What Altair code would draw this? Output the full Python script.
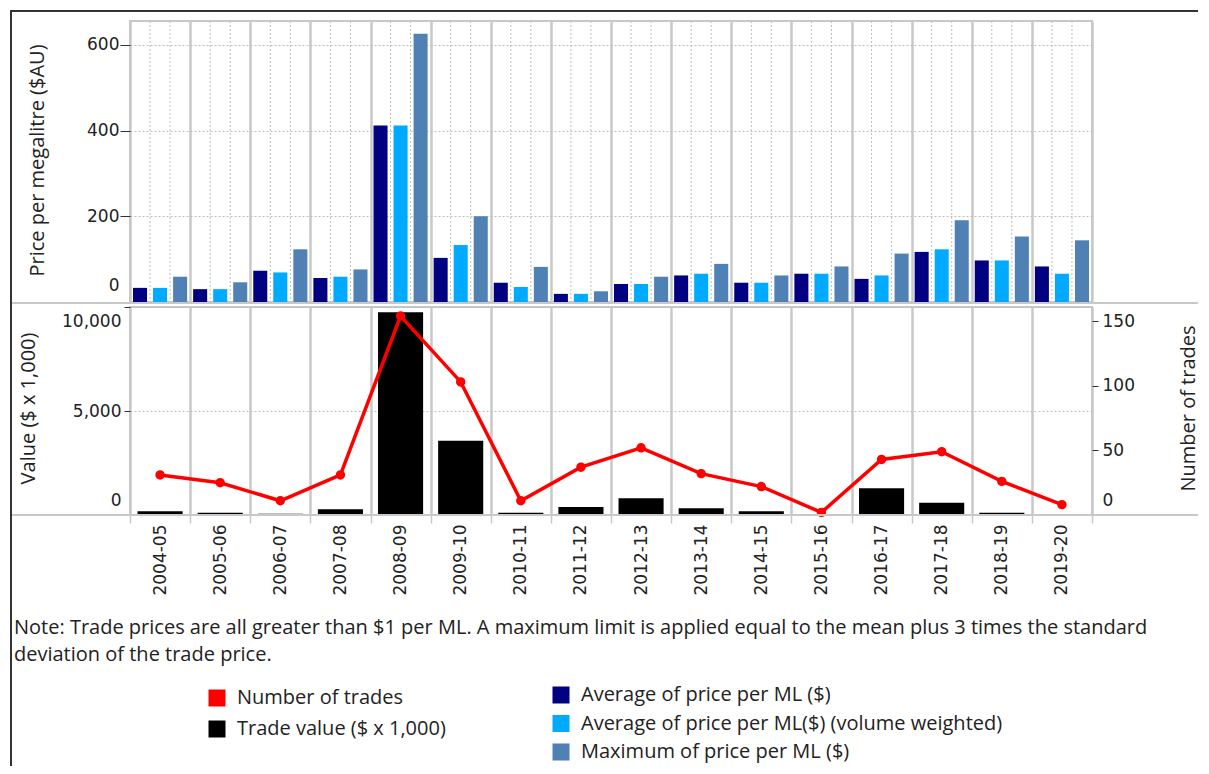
import altair as alt
import pandas as pd

# ---------------- data ----------------
years = ["2004-05", "2005-06", "2006-07", "2007-08", "2008-09", "2009-10",
         "2010-11", "2011-12", "2012-13", "2013-14", "2014-15", "2015-16",
         "2016-17", "2017-18", "2018-19", "2019-20"]

avg_price = [33, 30, 73, 56, 412, 103, 45, 19, 42, 62, 45, 66, 54, 117, 97, 83]
avg_price_vw = [33, 30, 69, 59, 412, 133, 35, 19, 42, 66, 45, 66, 62, 123, 97, 66]
max_price = [59, 46, 123, 76, 626, 200, 82, 25, 59, 89, 62, 83, 113, 191, 153, 144]

trade_value = [180, 110, 60, 275, 9750, 3570, 110, 385, 800, 320, 180, 5, 1285, 590, 110, 10]
num_trades = [31, 25, 11, 31, 154, 103, 11, 37, 52, 32, 22, 2, 43, 49, 26, 8]

series_names = ["Average of price per ML ($)",
                "Average of price per ML($) (volume weighted)",
                "Maximum of price per ML ($)"]
series_colors = ["#000080", "#00aaff", "#4f81b5"]

trade_value_label = "Trade value ($ x 1,000)"
num_trades_label = "Number of trades"

note_text = ("Note: Trade prices are all greater than $1 per ML. A maximum limit is applied "
             "equal to the mean plus 3 times the standard\ndeviation of the trade price.")

# ---------------- tables ----------------
price_df = pd.DataFrame({
    "year": years * 3,
    "series": [s for s in series_names for _ in years],
    "price": avg_price + avg_price_vw + max_price,
})
value_df = pd.DataFrame({"year": years, "value": trade_value, "measure": trade_value_label})
trades_df = pd.DataFrame({"year": years, "trades": num_trades, "measure": num_trades_label})
year_df = pd.DataFrame({"year": years})
one_df = pd.DataFrame({"k": [0]})
note_df = pd.DataFrame({"note": [note_text]})

# ---------------- style ----------------
W, H_TOP, H_BOT = 962, 281, 208
LABEL_FONT = "DejaVu Sans"
TEXT_FONT = "Open Sans"
TEXT_SIZE = 20
GRID = "#c8c8c8"
DASH = "#bdbdbd"
TXT = "#222222"


def x_scale():
    return alt.Scale(domain=years, paddingInner=0, paddingOuter=0)


legend_common = dict(title=None, orient="none", symbolType="square", symbolSize=289,
                     symbolStrokeWidth=0, labelFont=TEXT_FONT, labelFontSize=TEXT_SIZE,
                     labelColor=TXT, labelOffset=10, padding=0, direction="vertical",
                     labelLimit=700)

# ---------------- top panel ----------------
top_axis = alt.Axis(labels=False, ticks=False, domain=False, grid=True,
                    tickBand="extent", gridColor=GRID, gridWidth=2.5)

inner_a = alt.Chart(year_df).mark_rule(color=DASH, strokeDash=[2, 2], strokeWidth=1).encode(
    x=alt.X("year:N", sort=years, scale=x_scale(), bandPosition=1 / 3, title=None, axis=top_axis))
inner_b = alt.Chart(year_df).mark_rule(color=DASH, strokeDash=[2, 2], strokeWidth=1).encode(
    x=alt.X("year:N", sort=years, scale=x_scale(), bandPosition=2 / 3, title=None, axis=top_axis))

bars_top = alt.Chart(price_df).mark_bar().encode(
    x=alt.X("year:N", sort=years, scale=x_scale(), title=None, axis=top_axis),
    xOffset=alt.XOffset("series:N", sort=series_names,
                        scale=alt.Scale(domain=series_names, paddingInner=0.3, paddingOuter=0.15)),
    y=alt.Y("price:Q", scale=alt.Scale(domain=[0, 656], nice=False),
            axis=alt.Axis(values=[0, 200, 400, 600], title="Price per megalitre ($AU)",
                          grid=True, gridDash=[2, 2], gridColor=DASH, domain=False,
                          tickSize=10, labelPadding=1, labelFlush=True, labelFlushOffset=-8,
                          titleX=-93, titleY=139, titleAngle=270, titleBaseline="middle",
                          titleAlign="center")),
    color=alt.Color("series:N", scale=alt.Scale(domain=series_names, range=series_colors),
                    legend=alt.Legend(legendX=421, legendY=664, rowPadding=8.5, **legend_common)),
)

sep_top = alt.Chart(one_df).mark_rule(color=GRID, strokeWidth=2).encode(
    x=alt.value(-118), x2=alt.value(1068), y=alt.value(H_TOP + 1))
border_top = alt.Chart(one_df).mark_rule(color="#333333", strokeWidth=2).encode(
    x=alt.value(-120), x2=alt.value(1068), y=alt.value(-10))
border_left = alt.Chart(one_df).mark_rule(color="#333333", strokeWidth=2).encode(
    x=alt.value(-119), y=alt.value(-11), y2=alt.value(745))

top = alt.layer(inner_a, inner_b, bars_top, sep_top, border_top, border_left).properties(
    width=W, height=H_TOP)

# ---------------- bottom panel ----------------
bot_axis = alt.Axis(labelAngle=270, labelAlign="right", labelBaseline="middle",
                    labelPadding=1, tickBand="extent", tickSize=8, tickColor=GRID,
                    tickWidth=1.5, grid=True, gridColor=GRID, gridWidth=2.5,
                    domain=False)

bars_bot = alt.Chart(value_df).mark_bar(width=alt.RelativeBandSize(band=0.75)).encode(
    x=alt.X("year:N", sort=years, scale=x_scale(), title=None, axis=bot_axis),
    y=alt.Y("value:Q", scale=alt.Scale(domain=[0, 10000], nice=False),
            axis=alt.Axis(values=[0, 5000, 10000], format=",.0f", title="Value ($ x 1,000)",
                          grid=True, gridDash=[2, 2], gridColor=DASH, domain=False,
                          tickSize=6, labelPadding=3, labelFlush=True, labelFlushOffset=-6,
                          titleX=-102, titleY=101, titleAngle=270, titleBaseline="middle",
                          titleAlign="center")),
    fill=alt.Fill("measure:N", scale=alt.Scale(domain=[trade_value_label], range=["#000000"]),
                  legend=alt.Legend(legendX=77, legendY=698, **legend_common)),
)

line_bot = alt.Chart(trades_df).mark_line(
    strokeWidth=3.5,
    point=alt.OverlayMarkDef(filled=True, size=55, fill="#ff0000"),
).encode(
    x=alt.X("year:N", sort=years, scale=x_scale(), title=None, axis=bot_axis),
    y=alt.Y("trades:Q", scale=alt.Scale(domain=[0, 161], nice=False),
            axis=alt.Axis(orient="right", values=[0, 50, 100, 150], format="d",
                          title="Number of trades",
                          grid=False, domain=False, tickSize=6, labelPadding=4,
                          labelFlush=True, labelFlushOffset=-6,
                          titleX=96, titleY=101, titleAngle=270, titleBaseline="middle",
                          titleAlign="center")),
    stroke=alt.Stroke("measure:N", scale=alt.Scale(domain=[num_trades_label], range=["#ff0000"]),
                      legend=alt.Legend(legendX=77, legendY=667, symbolFillColor="#ff0000",
                                        **legend_common)),
)

sep_bot = alt.Chart(one_df).mark_rule(color=GRID, strokeWidth=2).encode(
    x=alt.value(-118), x2=alt.value(1068), y=alt.value(H_BOT))

note = alt.Chart(note_df).mark_text(
    align="left", baseline="alphabetic", lineBreak="\n", lineHeight=27,
    font=TEXT_FONT, fontSize=TEXT_SIZE, color=TXT,
).encode(x=alt.value(-116), y=alt.value(327), text="note:N")

bottom = alt.layer(bars_bot, line_bot, sep_bot, note).resolve_scale(y="independent").properties(
    width=W, height=H_BOT)

chart = alt.vconcat(top, bottom, spacing=5, bounds="flush").resolve_scale(
    x="independent", y="independent", color="shared", fill="shared", stroke="shared"
).properties(
    padding={"left": 0, "top": 0, "right": 0, "bottom": 0}
).configure_view(
    stroke=GRID, strokeWidth=2
).configure_axis(
    labelFont=LABEL_FONT, labelFontSize=17, labelColor=TXT,
    titleFont=TEXT_FONT, titleFontSize=TEXT_SIZE, titleFontWeight="normal", titleColor=TXT,
    tickColor="#333333",
)

chart.save("out.html", embed_options={"renderer": "svg", "actions": False})
